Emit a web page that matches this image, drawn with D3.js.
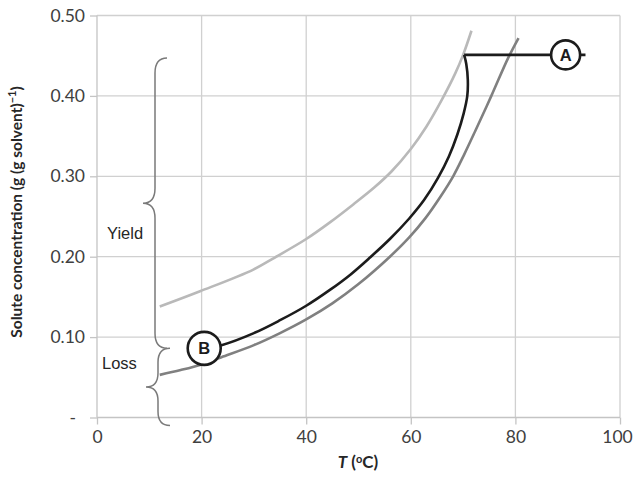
<!DOCTYPE html>
<html>
<head>
<meta charset="utf-8">
<script src="https://cdn.jsdelivr.net/npm/d3@7"></script>
<style>
  html, body { margin: 0; padding: 0; background: #fff; }
  svg { display: block; }
</style>
</head>
<body>
<svg id="chart" width="633" height="482"></svg>
<script>
// Axis ticks
const xTicks = [0, 20, 40, 60, 80, 100];
const yTicks = [0, 0.1, 0.2, 0.3, 0.4, 0.5];
const yTickLabels = ["-", "0.10", "0.20", "0.30", "0.40", "0.50"];

// Upper solubility curve [T, concentration]
const upperCurve = [
  [12, 0.138], [19.7, 0.157], [29.9, 0.184], [34, 0.199], [40, 0.222], [44.6, 0.243],
  [49, 0.265], [53, 0.286], [56.3, 0.306], [60, 0.334], [63, 0.362], [66, 0.396],
  [68.5, 0.428], [70, 0.451], [71.6, 0.481]
];

// Lower solubility curve
const lowerCurve = [
  [12, 0.053], [16, 0.059], [20, 0.066], [23.8, 0.075], [30, 0.090], [35, 0.105],
  [40, 0.122], [45, 0.142], [50, 0.166], [56, 0.200], [59.7, 0.224], [62.8, 0.248],
  [65.6, 0.274], [68.1, 0.300], [70.2, 0.327], [72.3, 0.356], [75.4, 0.400],
  [78.6, 0.447], [80.6, 0.472]
];

// Process path from point B up to the turning point
const processCurve = [
  [20.5, 0.086], [23.8, 0.090], [30, 0.105], [35, 0.121], [40, 0.139], [44.6, 0.159],
  [48.5, 0.178], [52.2, 0.199], [56, 0.222], [59.7, 0.2475], [62.6, 0.271],
  [65.2, 0.298], [67.3, 0.325], [68.9, 0.352], [70.1, 0.378], [70.8, 0.400],
  [70.9, 0.420], [70.6, 0.440], [70.2, 0.451]
];

// Horizontal run from the turning point out to point A
const feedLine = [[70.2, 0.451], [93.4, 0.451]];
const pointA = { label: "A", T: 89.6, C: 0.451 };
const pointB = { label: "B", T: 20.5, C: 0.086 };

// Brace annotations: [top C, bottom C]
const yieldRange = [0.447, 0.086];
const lossRange = [0.086, -0.010];

const svg = d3.select("#chart");
const x = d3.scaleLinear().domain([0, 100]).range([97, 620]);
const y = d3.scaleLinear().domain([0, 0.5]).range([417.5, 15.5]);

const tickFont = "Lato, 'Open Sans', sans-serif";

// Grid lines
const grid = svg.append("g");
grid.selectAll("line.v").data(xTicks.slice(1)).join("line")
  .attr("x1", d => x(d)).attr("x2", d => x(d))
  .attr("y1", y(0)).attr("y2", y(0.5))
  .attr("stroke", "#d0d0d0").attr("stroke-width", 1.3);
grid.selectAll("line.h").data(yTicks.slice(1)).join("line")
  .attr("x1", x(0)).attr("x2", x(100))
  .attr("y1", d => y(d)).attr("y2", d => y(d))
  .attr("stroke", "#d0d0d0").attr("stroke-width", 1.3);

// Axes
const xAxis = d3.axisBottom(x).tickValues(xTicks).tickSize(7).tickPadding(6);
const yAxis = d3.axisLeft(y).tickValues(yTicks).tickSize(7).tickPadding(5)
  .tickFormat((d, i) => yTickLabels[i]);

const gx = svg.append("g").attr("transform", `translate(0,${y(0)})`).call(xAxis);
const gy = svg.append("g").attr("transform", `translate(${x(0)},0)`).call(yAxis);
[gx, gy].forEach(g => {
  g.select(".domain").attr("stroke", "#c4c4c4").attr("stroke-width", 1.3);
  g.selectAll(".tick line").attr("stroke", "#c4c4c4").attr("stroke-width", 1.3);
  g.selectAll(".tick text").attr("fill", "#404040")
    .style("font-family", tickFont).style("font-size", "17.5px");
});
gy.select(".domain").attr("d", `M0,${y(0)}V${y(0.5)}`);
gx.select(".domain").attr("d", `M0,0H${x(100) - x(0)}`).attr("transform", `translate(${x(0)},0)`);
gy.selectAll(".tick text").filter((d, i) => i === 0).attr("x", -21);
gx.selectAll(".tick text").filter(d => d === 100).attr("dx", -3);

// Axis titles
svg.append("text")
  .attr("transform", `translate(22,212) rotate(-90)`)
  .attr("text-anchor", "middle")
  .style("font-family", tickFont).style("font-size", "15.5px").style("font-weight", "bold")
  .attr("fill", "#262626")
  .html('Solute concentration (g (g solvent)<tspan dy="-6" font-size="11px">\u22121</tspan><tspan dy="6">)</tspan>');

const xt = svg.append("text")
  .attr("x", 358).attr("y", 468)
  .attr("text-anchor", "middle")
  .style("font-family", tickFont).style("font-size", "17px").style("font-weight", "bold")
  .attr("fill", "#262626");
xt.append("tspan").style("font-style", "italic").text("T");
xt.append("tspan").text(" (");
xt.append("tspan").attr("dy", -5).attr("font-size", "11px").text("o");
xt.append("tspan").attr("dy", 5).text("C)");

// Curves
const line = d3.line().x(d => x(d[0])).y(d => y(d[1])).curve(d3.curveCatmullRom.alpha(0.5));

svg.append("path").datum(upperCurve).attr("d", line)
  .attr("fill", "none").attr("stroke", "#b9b9b9").attr("stroke-width", 2.6);
svg.append("path").datum(lowerCurve).attr("d", line)
  .attr("fill", "none").attr("stroke", "#808080").attr("stroke-width", 2.6);
svg.append("path").datum(processCurve).attr("d", line)
  .attr("fill", "none").attr("stroke", "#1c1c1c").attr("stroke-width", 2.6);
svg.append("path").datum(feedLine).attr("d", d3.line().x(d => x(d[0])).y(d => y(d[1])))
  .attr("fill", "none").attr("stroke", "#1c1c1c").attr("stroke-width", 2.6);

// Point markers
[[pointA, 14.5], [pointB, 16.5]].forEach(([p, r]) => {
  svg.append("circle").attr("cx", x(p.T)).attr("cy", y(p.C)).attr("r", r)
    .attr("fill", "#fff").attr("stroke", "#1c1c1c").attr("stroke-width", 2.6);
  svg.append("text").attr("x", x(p.T)).attr("y", y(p.C)).attr("dy", "0.36em")
    .attr("text-anchor", "middle")
    .style("font-family", "'Liberation Sans', Arial, sans-serif")
    .style("font-size", "16.5px").style("font-weight", "bold")
    .attr("fill", "#1c1c1c").text(p.label);
});

// Curly braces
function brace(xv, xTip, xEnd, y0, y1, r) {
  const ym = (y0 + y1) / 2;
  return `M${xEnd},${y0}` +
    `Q${xv},${y0} ${xv},${y0 + r}` +
    `L${xv},${ym - r}` +
    `Q${xv},${ym} ${xTip},${ym}` +
    `Q${xv},${ym} ${xv},${ym + r}` +
    `L${xv},${y1 - r}` +
    `Q${xv},${y1} ${xEnd},${y1}`;
}
svg.append("path").attr("d", brace(155, 143, 167, y(yieldRange[0]), y(yieldRange[1]), 15))
  .attr("fill", "none").attr("stroke", "#7a7a7a").attr("stroke-width", 1.5);
svg.append("path").attr("d", brace(158, 146, 170, y(lossRange[0]), y(lossRange[1]), 14))
  .attr("fill", "none").attr("stroke", "#7a7a7a").attr("stroke-width", 1.5);

const noteFont = "'Liberation Sans', Arial, sans-serif";
svg.append("text").attr("x", 107).attr("y", 239)
  .style("font-family", noteFont).style("font-size", "16.5px").attr("fill", "#262626").text("Yield");
svg.append("text").attr("x", 102).attr("y", 369)
  .style("font-family", noteFont).style("font-size", "16.5px").attr("fill", "#262626").text("Loss");
</script>
</body>
</html>
